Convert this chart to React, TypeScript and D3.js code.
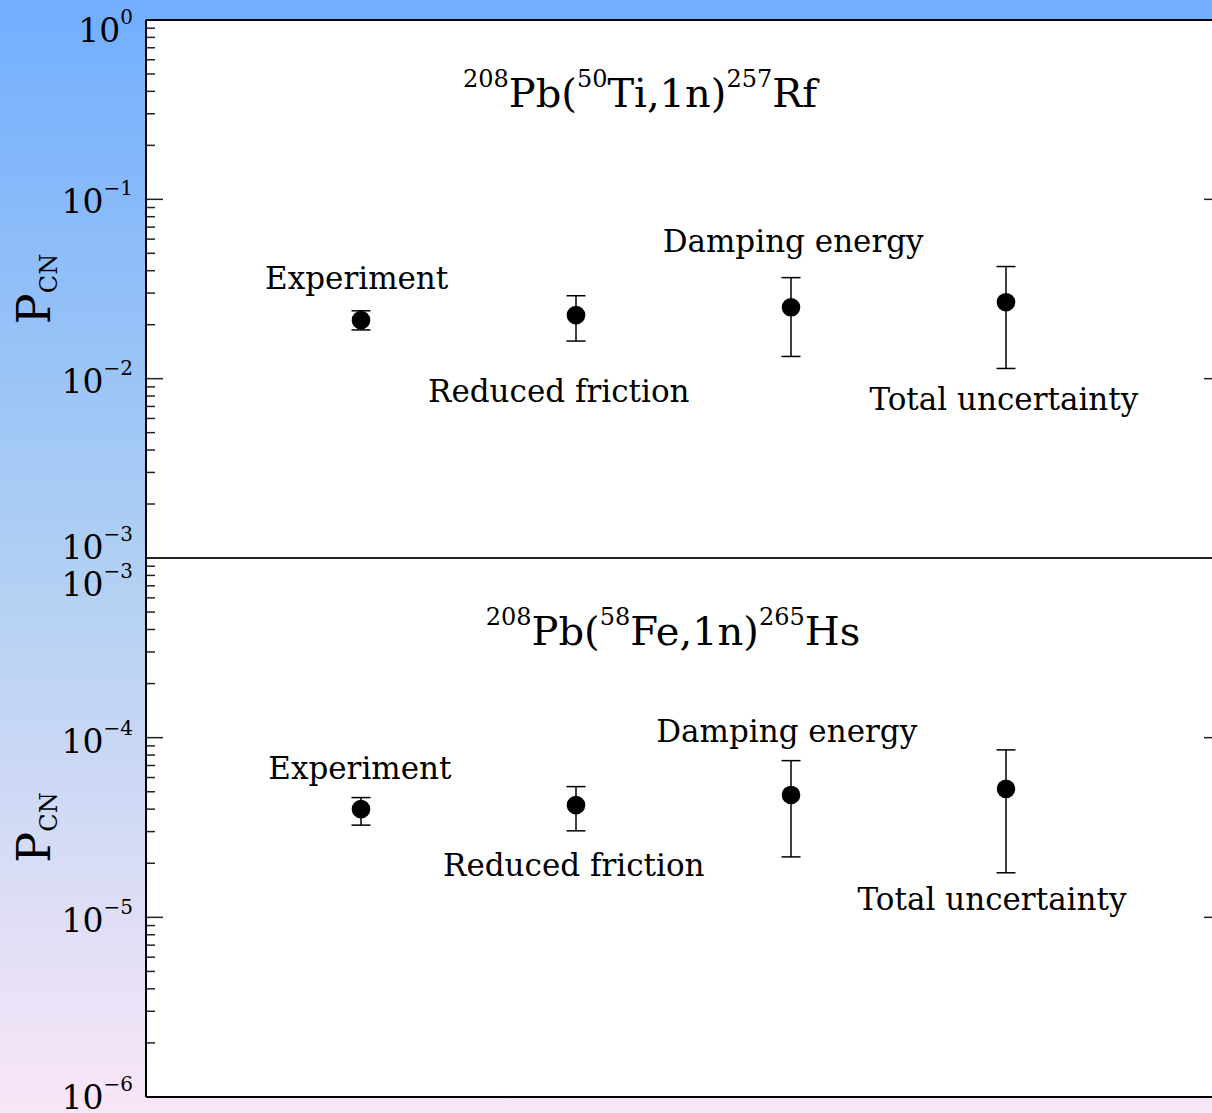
import React, { useEffect, useRef } from 'react';
import * as d3 from 'd3';

// methods (x categories, positions 1..4)
const methods = ['Experiment', 'Reduced friction', 'Damping energy', 'Total uncertainty'];

// 208Pb(50Ti,1n)257Rf
const rfValue = [0.0212, 0.0226, 0.0250, 0.0267];
const rfLower = [0.0187, 0.0162, 0.0133, 0.0114];
const rfUpper = [0.0239, 0.0290, 0.0366, 0.0422];
const rfLabelX = [0.98, 1.92, 3.01, 3.99];
const rfLabelY = [0.0316, 0.00741, 0.0509, 0.00668];

// 208Pb(58Fe,1n)265Hs
const hsValue = [4.0e-5, 4.21e-5, 4.8e-5, 5.19e-5];
const hsLower = [3.26e-5, 3.03e-5, 2.17e-5, 1.77e-5];
const hsUpper = [4.64e-5, 5.34e-5, 7.45e-5, 8.55e-5];
const hsLabelX = [0.995, 1.99, 2.98, 3.935];
const hsLabelY = [5.89e-5, 1.7e-5, 9.46e-5, 1.1e-5];

const rfExponents = [0, -1, -2, -3];
const hsExponents = [-3, -4, -5, -6];

const FONT = '"DejaVu Serif", serif';

export default function App() {
  const svgRef = useRef<SVGSVGElement>(null);

  useEffect(() => {
    if (!svgRef.current) return;
    const width = 1212;
    const height = 1113;
    const svg = d3.select(svgRef.current);
    svg.selectAll('*').remove();

    const defs = svg.append('defs');
    const grad = defs.append('linearGradient')
      .attr('id', 'bg').attr('x1', 0).attr('y1', 0).attr('x2', 0).attr('y2', 1);
    grad.append('stop').attr('offset', '0%').attr('stop-color', '#72aefe');
    grad.append('stop').attr('offset', '50%').attr('stop-color', '#afcff3');
    grad.append('stop').attr('offset', '100%').attr('stop-color', '#f9e6f7');

    svg.append('rect').attr('width', width).attr('height', height).attr('fill', 'url(#bg)');

    const x = d3.scaleLinear().domain([0, 5]).range([146, 1221]);
    const panels = [
      {
        y: d3.scaleLog().domain([1e-3, 1]).range([558, 20]),
        values: rfValue, lower: rfLower, upper: rfUpper,
        labelX: rfLabelX, labelY: rfLabelY, exps: rfExponents,
        title: ['208', 'Pb(', '50', 'Ti,1n)', '257', 'Rf'],
        titleX: 2.298, titleY: 0.327,
        expOffsets: [22, 14, 14, 1],
      },
      {
        y: d3.scaleLog().domain([1e-6, 1e-3]).range([1097, 558]),
        values: hsValue, lower: hsLower, upper: hsUpper,
        labelX: hsLabelX, labelY: hsLabelY, exps: hsExponents,
        title: ['208', 'Pb(', '58', 'Fe,1n)', '265', 'Hs'],
        titleX: 2.451, titleY: 3.28e-4,
        expOffsets: [38, 15, 15, 12],
      },
    ];

    // white plot area
    svg.append('rect')
      .attr('x', x(0)).attr('y', 20)
      .attr('width', x(5) - x(0)).attr('height', 1097 - 20)
      .attr('fill', '#ffffff');

    panels.forEach(p => {
      const [d0, d1] = p.y.domain();
      const g = svg.append('g');

      // ticks
      const majors = p.exps.map(e => Math.pow(10, e));
      const minors: number[] = [];
      for (let e = Math.log10(d0); e < Math.log10(d1); e++) {
        for (let k = 2; k <= 9; k++) minors.push(k * Math.pow(10, e));
      }
      [x(0), x(5)].forEach((x0, i) => {
        const dir = i === 0 ? 1 : -1;
        g.selectAll(null).data(majors).enter().append('line')
          .attr('x1', x0).attr('x2', x0 + dir * 17)
          .attr('y1', d => p.y(d)).attr('y2', d => p.y(d))
          .attr('stroke', '#222').attr('stroke-width', 1.5);
        g.selectAll(null).data(minors).enter().append('line')
          .attr('x1', x0).attr('x2', x0 + dir * 9)
          .attr('y1', d => p.y(d)).attr('y2', d => p.y(d))
          .attr('stroke', '#222').attr('stroke-width', 1.5);
      });

      // tick labels
      const tl = g.selectAll(null).data(p.exps).enter().append('text')
        .attr('x', 133)
        .attr('y', (d, i) => p.y(Math.pow(10, d)) + p.expOffsets[i])
        .attr('text-anchor', 'end')
        .attr('font-family', FONT)
        .attr('font-size', 33)
        .attr('fill', '#000');
      tl.append('tspan').text('10');
      tl.append('tspan').attr('dy', -18).attr('font-size', 20)
        .text(d => (d < 0 ? '\u2212' + Math.abs(d) : String(d)));

      // y label
      const [ya, yb] = p.y.range();
      const ylab = g.append('text')
        .attr('transform', `translate(50,${(ya + yb) / 2}) rotate(-90)`)
        .attr('text-anchor', 'middle')
        .attr('font-family', FONT)
        .attr('fill', '#000');
      ylab.append('tspan').attr('font-size', 46).text('P');
      ylab.append('tspan').attr('font-size', 24).attr('dy', 7).text('CN');

      // error bars
      const pts = g.selectAll(null).data(p.values).enter().append('g');
      pts.append('line')
        .attr('x1', (d, i) => x(i + 1)).attr('x2', (d, i) => x(i + 1))
        .attr('y1', (d, i) => p.y(p.upper[i])).attr('y2', (d, i) => p.y(p.lower[i]))
        .attr('stroke', '#000').attr('stroke-width', 1.5);
      pts.append('line')
        .attr('x1', (d, i) => x(i + 1) - 9.5).attr('x2', (d, i) => x(i + 1) + 9.5)
        .attr('y1', (d, i) => p.y(p.upper[i])).attr('y2', (d, i) => p.y(p.upper[i]))
        .attr('stroke', '#000').attr('stroke-width', 1.5);
      pts.append('line')
        .attr('x1', (d, i) => x(i + 1) - 9.5).attr('x2', (d, i) => x(i + 1) + 9.5)
        .attr('y1', (d, i) => p.y(p.lower[i])).attr('y2', (d, i) => p.y(p.lower[i]))
        .attr('stroke', '#000').attr('stroke-width', 1.5);
      pts.append('circle')
        .attr('cx', (d, i) => x(i + 1)).attr('cy', d => p.y(d))
        .attr('r', 9.3).attr('fill', '#000');

      // method labels
      g.selectAll(null).data(methods).enter().append('text')
        .attr('x', (d, i) => x(p.labelX[i]))
        .attr('y', (d, i) => p.y(p.labelY[i]))
        .attr('text-anchor', 'middle')
        .attr('font-family', FONT)
        .attr('font-size', 31)
        .attr('fill', '#000')
        .text(d => d);

      // reaction title
      const t = g.append('text')
        .attr('x', x(p.titleX)).attr('y', p.y(p.titleY))
        .attr('text-anchor', 'middle')
        .attr('font-family', FONT)
        .attr('fill', '#000');
      p.title.forEach((s, i) => {
        const sup = i % 2 === 0;
        t.append('tspan')
          .attr('font-size', sup ? 24 : 40)
          .attr('dy', i === 0 ? -20 : sup ? -20 : 20)
          .text(s);
      });
    });

    // frame
    svg.append('line').attr('x1', 146).attr('x2', 1221).attr('y1', 20).attr('y2', 20)
      .attr('stroke', '#000').attr('stroke-width', 2);
    svg.append('line').attr('x1', 146).attr('x2', 1221).attr('y1', 1097).attr('y2', 1097)
      .attr('stroke', '#000').attr('stroke-width', 2);
    svg.append('line').attr('x1', 146).attr('x2', 1221).attr('y1', 558).attr('y2', 558)
      .attr('stroke', '#222').attr('stroke-width', 2);
    svg.append('line').attr('x1', 146).attr('x2', 146).attr('y1', 20).attr('y2', 1097)
      .attr('stroke', '#000').attr('stroke-width', 2);
  }, []);

  return (
    <div style={{ position: 'fixed', left: 0, top: 0 }}>
      <svg ref={svgRef} width={1212} height={1113} style={{ display: 'block' }} />
    </div>
  );
}
